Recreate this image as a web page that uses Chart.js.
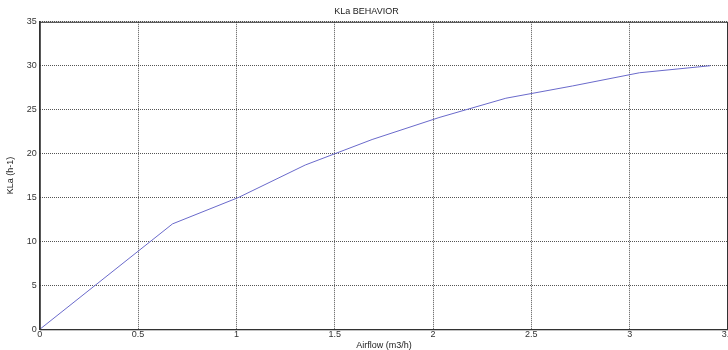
<!DOCTYPE html>
<html>
<head>
<meta charset="utf-8">
<script src="https://cdn.jsdelivr.net/npm/chart.js@4.4.1/dist/chart.umd.min.js"></script>
<style>
  html, body { margin: 0; padding: 0; background: #fff; overflow: hidden; }
  #wrap { position: relative; width: 768px; height: 350px; }
</style>
</head>
<body>
<div id="wrap"><canvas id="klaChart"></canvas></div>
<script>
// airflow (m3/h) and KLa (h-1)
const airflow = [0, 0.675, 1.01, 1.35, 1.69, 2.03, 2.37, 2.71, 3.05, 3.41];
const kla = [0, 12.0, 15.0, 18.7, 21.6, 24.1, 26.3, 27.7, 29.2, 30.0];

const xTicks = [0, 0.5, 1, 1.5, 2, 2.5, 3, 3.5];
const yTicks = [0, 5, 10, 15, 20, 25, 30, 35];

const points = airflow.map((x, i) => ({ x: x, y: kla[i] }));

// draws the box round the plot area, like the matlab axes
const boxPlugin = {
  id: "box",
  afterDraw(chart) {
    const a = chart.chartArea;
    const c = chart.ctx;
    c.save();
    c.strokeStyle = "#333";
    c.lineWidth = 1;
    c.strokeRect(a.left + 0.5, a.top + 0.5, a.right - a.left - 1, a.bottom - a.top);
    c.restore();
  }
};

const ctx = document.getElementById("klaChart");

new Chart(ctx, {
  type: "line",
  data: {
    datasets: [
      {
        label: "KLa",
        data: points,
        borderColor: "#6a6acb",
        backgroundColor: "#6a6acb",
        borderWidth: 1,
        pointRadius: 0,
        tension: 0
      }
    ]
  },
  options: {
    responsive: true,
    maintainAspectRatio: false,
    animation: false,
    layout: {
      padding: { left: 5, right: 40, top: 0, bottom: 0 }
    },
    plugins: {
      legend: { display: false },
      tooltip: { enabled: false },
      title: {
        display: true,
        text: "KLa BEHAVIOR",
        color: "#222",
        font: { family: "Liberation Sans", size: 9, weight: "normal" },
        padding: { top: 6, bottom: 5 }
      }
    },
    scales: {
      x: {
        type: "linear",
        min: 0,
        max: 3.5,
        afterBuildTicks: axis => {
          axis.ticks = xTicks.map(v => ({ value: v }));
        },
        ticks: {
          color: "#333",
          font: { family: "Liberation Sans", size: 9 },
          padding: 0,
          maxRotation: 0,
          autoSkip: false,
          callback: v => String(v)
        },
        grid: {
          color: "#555",
          lineWidth: 1,
          drawTicks: false
        },
        border: { color: "#333", width: 1, dash: [1, 1] },
        title: {
          display: true,
          text: "Airflow (m3/h)",
          color: "#222",
          font: { family: "Liberation Sans", size: 9, lineHeight: 1.1 },
          padding: { top: 0, bottom: 0 }
        }
      },
      y: {
        min: 0,
        max: 35,
        afterBuildTicks: axis => {
          axis.ticks = yTicks.map(v => ({ value: v }));
        },
        ticks: {
          color: "#333",
          font: { family: "Liberation Sans", size: 9 },
          padding: 3,
          callback: v => String(v)
        },
        grid: {
          color: "#555",
          lineWidth: 1,
          drawTicks: false
        },
        border: { color: "#333", width: 1, dash: [1, 1] },
        title: {
          display: true,
          text: "KLa (h-1)",
          color: "#222",
          font: { family: "Liberation Sans", size: 9 },
          padding: { top: 0, bottom: 8 }
        }
      }
    }
  },
  plugins: [boxPlugin]
});
</script>
</body>
</html>
